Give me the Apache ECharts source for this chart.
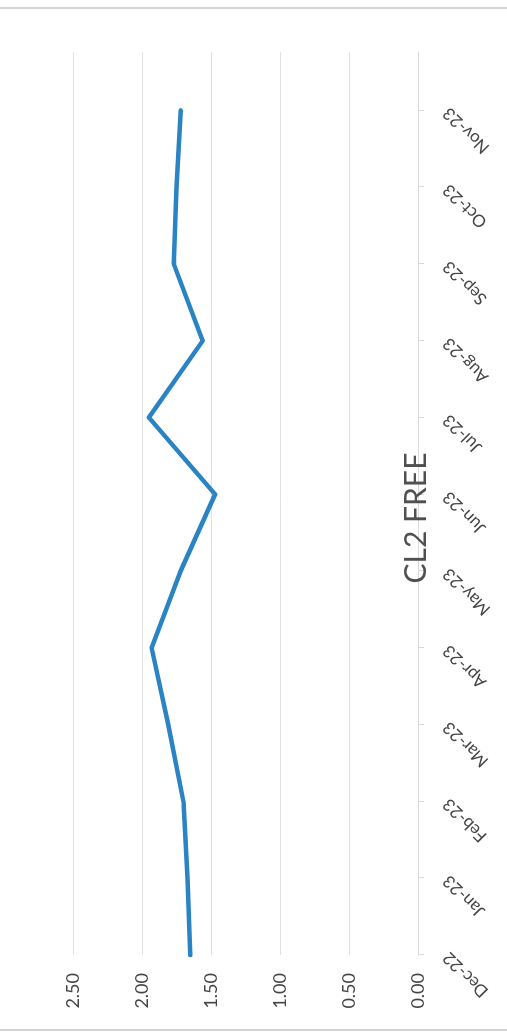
<!DOCTYPE html>
<html>
<head>
<meta charset="utf-8">
<title>CL2 FREE</title>
<script src="https://cdn.jsdelivr.net/npm/echarts@6/dist/echarts.min.js"></script>
<style>
  html, body { margin: 0; padding: 0; background: #fff; overflow: hidden; }
  /* the chart is drawn landscape and turned a quarter-turn counter-clockwise */
  #main {
    position: absolute; left: 0; top: 0;
    width: 1036px; height: 507px;
    transform-origin: 0 0;
    transform: translate(0, 1036px) rotate(-90deg);
  }
</style>
</head>
<body>
<div id="main"></div>
<script>
// data
var months = ['Dec-22', 'Jan-23', 'Feb-23', 'Mar-23', 'Apr-23', 'May-23',
              'Jun-23', 'Jul-23', 'Aug-23', 'Sep-23', 'Oct-23', 'Nov-23'];
var cl2Free = [1.65, 1.67, 1.70, 1.81, 1.93, 1.72, 1.47, 1.95, 1.56, 1.77, 1.75, 1.72];
var yTicks = { min: 0, max: 2.5, interval: 0.5 };

// month index on a plain axis so the plot area can run a bit past Nov-23
var seriesData = cl2Free.map(function (v, i) { return [i, v]; });

var myChart = echarts.init(document.getElementById('main'));
var option = {
  backgroundColor: '#fff',
  animation: false,
  title: {
    text: 'CL2 FREE',
    left: 'center',
    top: 396,
    textStyle: { fontFamily: 'Lato', fontSize: 30, fontWeight: 'normal', color: '#505050' }
  },
  grid: { left: 81, right: 52, top: 73, bottom: 89 },
  xAxis: {
    type: 'value',
    min: 0, max: 11.76, interval: 1,
    splitLine: { show: false },
    axisLine: { show: true, onZero: false, lineStyle: { color: '#d9d9d9' } },
    axisTick: { show: true, length: 6, lineStyle: { color: '#d9d9d9' } },
    axisLabel: {
      rotate: 45, margin: 28, showMaxLabel: false,
      fontFamily: 'Lato', fontSize: 17, color: '#454545',
      formatter: function (v) { return v === Math.round(v) ? (months[v] || '') : ''; }
    }
  },
  yAxis: {
    type: 'value',
    min: yTicks.min, max: yTicks.max, interval: yTicks.interval,
    axisLine: { show: false },
    axisTick: { show: false },
    splitLine: { lineStyle: { color: '#e0e0e0', width: 1 } },
    axisLabel: {
      margin: 18,
      fontFamily: 'Lato', fontSize: 18, color: '#454545',
      formatter: function (v) { return v.toFixed(2); }
    }
  },
  series: [{
    type: 'line',
    data: seriesData,
    symbol: 'none',
    lineStyle: { color: '#2a84c3', width: 4.5, join: 'round', cap: 'round' }
  }],
  // thin chart-area border
  graphic: [
    { type: 'line', shape: { x1: 6, y1: 0, x2: 6, y2: 507 }, style: { stroke: '#d4d4d8', lineWidth: 2 } },
    { type: 'line', shape: { x1: 1028, y1: 0, x2: 1028, y2: 507 }, style: { stroke: '#d4d4d8', lineWidth: 2 } }
  ]
};
myChart.setOption(option);
</script>
</body>
</html>
